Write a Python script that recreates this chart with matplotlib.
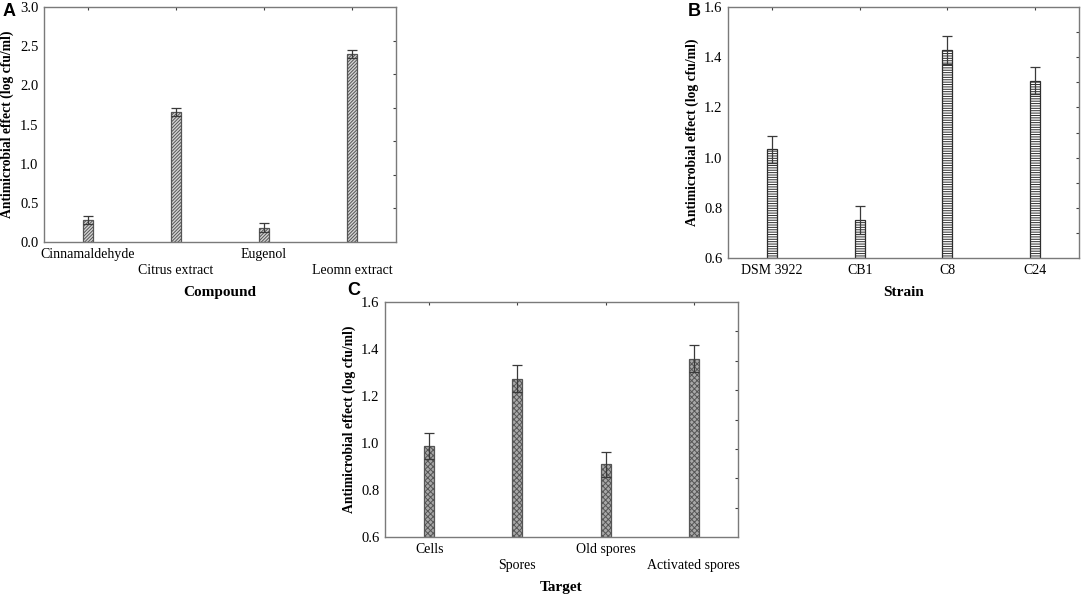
import numpy as np
import matplotlib
matplotlib.use("Agg")
import matplotlib.pyplot as plt

plt.rcParams['font.family'] = ['Liberation Serif', 'DejaVu Serif']
plt.rcParams['hatch.linewidth'] = 0.7

# Panel A data
compounds = ['Cinnamaldehyde', 'Citrus extract', 'Eugenol', 'Leomn extract']
compound_mean = [0.285, 1.655, 0.183, 2.404]
compound_err = [0.052, 0.052, 0.055, 0.052]

# Panel B data
strains = ['DSM 3922', 'CB1', 'C8', 'C24']
strain_mean = [1.034, 0.750, 1.427, 1.307]
strain_err = [0.054, 0.056, 0.056, 0.055]

# Panel C data
targets = ['Cells', 'Spores', 'Old spores', 'Activated spores']
target_mean = [0.988, 1.274, 0.910, 1.358]
target_err = [0.056, 0.056, 0.053, 0.057]

YLABEL = 'Antimicrobial effect (log cfu/ml)'
W, H = 1084, 594


def px_axes(fig, left, right, top, bottom):
  return fig.add_axes([left / W, 1 - bottom / H, (right - left) / W, (bottom - top) / H])


def draw_panel(ax, labels, means, errs, ylim, yticks, right_div, xlabel,
               face, edge, hatch, stagger):
  x = np.arange(len(labels)) + 0.5
  ax.bar(x, np.array(means) - ylim[0], bottom=ylim[0], width=0.115,
         color=face, edgecolor=edge, hatch=hatch, linewidth=0.9, zorder=2)
  ax.errorbar(x, means, yerr=errs, fmt='none', ecolor='#3a3a3a',
              elinewidth=0.9, capsize=3.6, capthick=0.9, zorder=3)
  ax.set_xlim(0, len(labels))
  ax.set_ylim(*ylim)
  ax.set_yticks(yticks)
  ax.set_yticklabels([f'{v:.1f}' for v in yticks], fontsize=10.5)
  ax.set_xticks(x)
  ax.set_xticklabels(labels, fontsize=10)
  ax.tick_params(axis='both', length=0, pad=4)
  if stagger:
    for i, t in enumerate(ax.xaxis.get_major_ticks()):
      t.set_pad(4.5 if i % 2 == 0 else 15.5)
  ax.set_xlabel(xlabel, fontsize=11, fontweight='bold', labelpad=6.5)
  ax.set_ylabel(YLABEL, fontsize=9.8, fontweight='bold', labelpad=4)
  for s in ax.spines.values():
    s.set_color('#7a7a7a')
    s.set_linewidth(1.0)

  # inward ticks on top and right spines
  top = ax.secondary_xaxis('top')
  top.set_xticks(x)
  top.set_xticklabels([])
  top.tick_params(direction='in', length=2.5, color='#404040')
  top.spines['top'].set_visible(False)
  right = ax.secondary_yaxis('right')
  rt = np.linspace(ylim[0], ylim[1], right_div + 1)[1:-1]
  right.set_yticks(rt)
  right.set_yticklabels([])
  right.tick_params(direction='in', length=2.5, color='#404040')
  right.spines['right'].set_visible(False)


fig = plt.figure(figsize=(W / 100, H / 100), dpi=100)

axA = px_axes(fig, 44, 396, 7, 242)
draw_panel(axA, compounds, compound_mean, compound_err, (0.0, 3.0),
           np.arange(0, 3.01, 0.5), 7, 'Compound', '#d4d4d4', '#555555',
           '//////////', True)

axB = px_axes(fig, 728, 1079, 7, 258)
draw_panel(axB, strains, strain_mean, strain_err, (0.6, 1.6),
           np.arange(0.6, 1.61, 0.2), 10, 'Strain', '#ffffff', '#2e2e2e',
           '-------', False)

axC = px_axes(fig, 385, 738, 302, 537)
draw_panel(axC, targets, target_mean, target_err, (0.6, 1.6),
           np.arange(0.6, 1.61, 0.2), 8, 'Target', '#a8a8a8', '#555555',
           'xxxxxx', True)

for letter, (xp, yp) in {'A': (3, 12), 'B': (688, 12), 'C': (347, 291)}.items():
  fig.text(xp / W, 1 - yp / H, letter, fontsize=13, fontweight='bold',
           family='Liberation Sans', va='center', ha='left')

fig.savefig('out.png', dpi=100)
